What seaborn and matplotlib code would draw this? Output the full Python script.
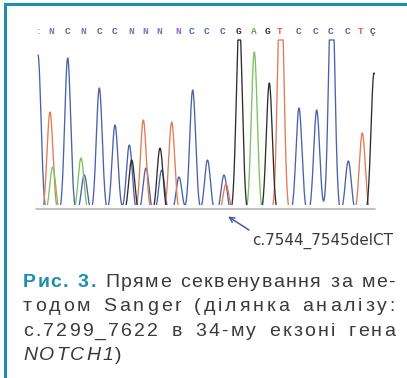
import numpy as np
import pandas as pd
import seaborn as sns
import matplotlib
matplotlib.use("Agg")
import matplotlib.pyplot as plt
from matplotlib.font_manager import FontProperties
from matplotlib.patches import Rectangle

# ---------------- data ----------------
base_calls = [':', 'N', 'C', 'N', 'C', 'C', 'N', 'N', 'N', 'N', 'C', 'C', 'C',
              'G', 'A', 'G', 'T', 'C', 'C', 'C', 'C', 'T', 'Ç']
base_pos = [39, 51, 67.7, 83, 100, 115, 131.7, 145, 159, 178, 192, 207, 222.7,
            239, 254, 268, 280, 299, 316, 331, 348, 361, 373]

c_pos = [38, 67.7, 84.3, 99.3, 115, 129.3, 146, 161.7, 179, 192.7, 207.5, 224,
         299, 316.7, 331.7, 348.3]
c_hgt = [150, 147, 30, 117, 80, 60, 37, 35, 28, 115, 45, 30, 97, 95, 235, 44]
t_pos = [50, 143.3, 171.7, 226, 280.7, 362.3]
t_hgt = [93, 85, 83, 21, 240, 72]
a_pos = [52.7, 81, 254.3]
a_hgt = [38, 47, 153]
g_pos = [131.7, 160, 239.3, 269.3, 374]
g_hgt = [45, 57, 185, 122, 132]

mutation_label = "c.7544_7545delCT"
caption_lines = [
    [[("Рис.", "fig")], [("3.", "fig")], [("Пряме", "reg")], [("секвенування", "reg")],
     [("за", "reg")], [("ме-", "reg")]],
    [[("тодом", "reg")], [("Sanger", "reg")], [("(ділянка", "reg")], [("аналізу:", "reg")]],
    [[("с.7299_7622", "reg")], [("в", "reg")], [("34-му", "reg")], [("екзоні", "reg")],
     [("гена", "reg")]],
    [[("NOTCH1", "it"), (")", "reg")]],
]
caption_justify = [True, True, True, False]

# ---------------- styling ----------------
TEAL = "#1b8fae"
TEXT = "#3a3a3a"
palette = {"C": "#4a62ad", "T": "#e27b52", "A": "#7dc066", "G": "#2e2e2e"}
letter_colors = {"C": "#4a62ad", "T": "#e0603c", "A": "#5aa84a", "G": "#333333",
                 "N": "#8a72b8", ":": "#888888", "Ç": "#555555"}
SIGMA = 3.0
OFFSET = 10
CAP = 165

sns.set_style("white")
plt.rcParams["font.family"] = ["DejaVu Sans"]

W, H = 407, 378
fig = plt.figure(figsize=(W / 100, H / 100), dpi=100)
fig.patch.set_facecolor("white")

# overlay axes in pixel coordinates for frame and caption
axf = fig.add_axes([0, 0, 1, 1])
axf.set_xlim(0, W)
axf.set_ylim(H, 0)
axf.axis("off")
axf.patch.set_alpha(0)
axf.add_patch(Rectangle((4, 3), 3.3, H - 3, color=TEAL, lw=0))
axf.add_patch(Rectangle((4, 3), W - 4, 3.3, color=TEAL, lw=0))

# chromatogram axes: x in scan units (36..375), y intensity (0 at bottom clip)
x0, x1 = 36, 375
ytop_px, ybot_px = 25, 205
ax = fig.add_axes([x0 / W, (H - ybot_px) / H, (x1 - x0) / W, (ybot_px - ytop_px) / H])
ax.set_xlim(x0, x1)
ax.set_ylim(0, ybot_px - ytop_px)
ax.axis("off")
ax.patch.set_alpha(0)

scan = np.linspace(38, 374.3, 2400)
rows = []
for base, pos, hgt in [("C", c_pos, c_hgt), ("T", t_pos, t_hgt),
                       ("A", a_pos, a_hgt), ("G", g_pos, g_hgt)]:
    sig = np.zeros_like(scan)
    for p, h in zip(pos, hgt):
        sig += (h + OFFSET) * np.exp(-(scan - p) ** 2 / (2 * SIGMA ** 2))
    sig = np.minimum(sig - OFFSET, CAP)
    rows.append(pd.DataFrame({"scan": scan, "signal": sig, "base": base}))
df = pd.concat(rows, ignore_index=True)

sns.lineplot(data=df, x="scan", y="signal", hue="base", palette=palette,
             hue_order=["C", "T", "A", "G"], estimator=None, sort=False,
             lw=0.95, legend=False, ax=ax)
ax.set_xlabel("")
ax.set_ylabel("")

# grey baseline under the traces
ax.plot([x0, x1], [-3.5, -3.5], color="#bdbdbd", lw=1.3, clip_on=False)

# base calls
for b, p in zip(base_calls, base_pos):
    ax.text(p, 174, b, ha="center", va="center", color=letter_colors[b],
            fontsize=6.8, family="Liberation Mono", fontweight="bold")

# mutation arrow and label (pixel space)
axf.annotate("", xy=(228, 216.5), xytext=(249, 230),
             arrowprops=dict(arrowstyle="->", color="#3f5fa8", lw=1.1,
                             mutation_scale=9, shrinkA=0, shrinkB=0))
axf.text(252, 245, mutation_label, ha="left", va="baseline", color=TEXT,
         fontsize=10.9, family="DejaVu Sans")

# caption: justified lines, word gap fixed per line, extra space as tracking
fsz = 14
fps = {
    "reg": FontProperties(family="Liberation Sans", size=fsz),
    "fig": FontProperties(family="Liberation Sans", size=fsz, weight="bold"),
    "it": FontProperties(family="Liberation Sans", size=fsz, style="italic"),
}
cols = {"reg": TEXT, "fig": TEAL, "it": TEXT}
renderer = fig.canvas.get_renderer()
_cache = {}


def cw(ch, st):
    key = (ch, st)
    if key not in _cache:
        t = axf.text(0, 0, ch, fontproperties=fps[st])
        _cache[key] = t.get_window_extent(renderer).width
        t.remove()
    return _cache[key]


def natural(word):
    return sum(cw(ch, st) for seg, st in word for ch in seg)


def nchars(word):
    return sum(len(seg) for seg, st in word)


left, right = 23, 395
gaps = [9.5, 13, 13.5, 0]
baselines = [286.7, 311, 335.7, 359.5]
for line, just, yb, gap in zip(caption_lines, caption_justify, baselines, gaps):
    nat = sum(natural(w) for w in line)
    nint = sum(nchars(w) - 1 for w in line)
    if just:
        track = (right - left - nat - gap * (len(line) - 1)) / nint
    else:
        track = 2.0
    x = left
    for word in line:
        for seg, st in word:
            for ch in seg:
                axf.text(x, yb, ch, fontproperties=fps[st], color=cols[st],
                         ha="left", va="baseline")
                x += cw(ch, st) + track
        x += gap - track

fig.savefig("out.png", dpi=100)
